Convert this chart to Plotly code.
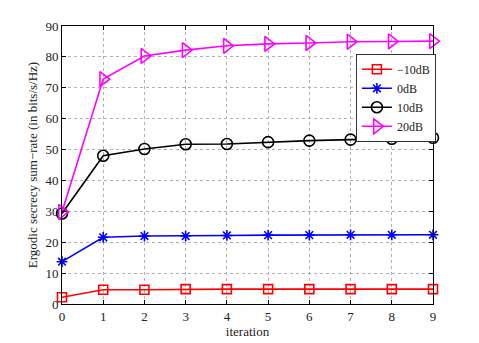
import plotly.graph_objects as go

iterations = list(range(10))
snr_labels = ["\u221210dB", "0dB", "10dB", "20dB"]
rate_m10 = [2.2, 4.6, 4.6, 4.8, 4.8, 4.8, 4.8, 4.8, 4.8, 4.8]
rate_0 = [13.7, 21.6, 22.0, 22.0, 22.2, 22.3, 22.3, 22.4, 22.4, 22.4]
rate_10 = [29.3, 48.0, 50.2, 51.7, 51.8, 52.4, 52.9, 53.2, 53.5, 53.8]
rate_20 = [29.8, 72.8, 80.3, 82.2, 83.6, 84.2, 84.5, 84.9, 85.0, 85.1]

series = [rate_m10, rate_0, rate_10, rate_20]
colors = ["#ff0000", "#0000ff", "#000000", "#ff00ff"]
symbols = ["square-open", "asterisk-open", "circle-open", "triangle-right-open"]
sizes = [9, 9, 11, 13]

fig = go.Figure()
for name, ys, c, s, sz in zip(snr_labels, series, colors, symbols, sizes):
    fig.add_trace(go.Scatter(
        x=iterations, y=ys, name=name, mode="lines+markers",
        line=dict(color=c, width=1.6),
        marker=dict(symbol=s, size=sz, color=c, line=dict(color=c, width=1.6)),
        cliponaxis=False,
    ))

axis_common = dict(
    showline=True, linecolor="black", linewidth=1, mirror="ticks",
    ticks="inside", ticklen=4, tickcolor="black",
    showgrid=True, gridcolor="#b0b0b0", griddash="dot", gridwidth=1,
    zeroline=False, automargin=False,
    tickfont=dict(family="Liberation Serif", size=13, color="#222"),
)

fig.update_layout(
    width=479, height=343,
    margin=dict(l=54, r=54, t=18, b=47),
    paper_bgcolor="white", plot_bgcolor="white",
    font=dict(family="Liberation Serif", size=13, color="#222"),
    xaxis=dict(range=[0, 9], dtick=1, title=dict(text="iteration", standoff=0,
               font=dict(size=13)), **axis_common),
    yaxis=dict(range=[0, 90], dtick=10,
               title=dict(text="Ergodic secrecy sum\u2212rate (in bits/s/Hz)", standoff=4,
                          font=dict(size=13)), **axis_common),
    legend=dict(x=0.9, y=0.9, xanchor="center", yanchor="top",
                bgcolor="white", bordercolor="#333", borderwidth=1,
                font=dict(family="Liberation Serif", size=12, color="#222"),
                tracegroupgap=0, itemwidth=30),
    showlegend=True,
)

fig.write_html("out.html")
